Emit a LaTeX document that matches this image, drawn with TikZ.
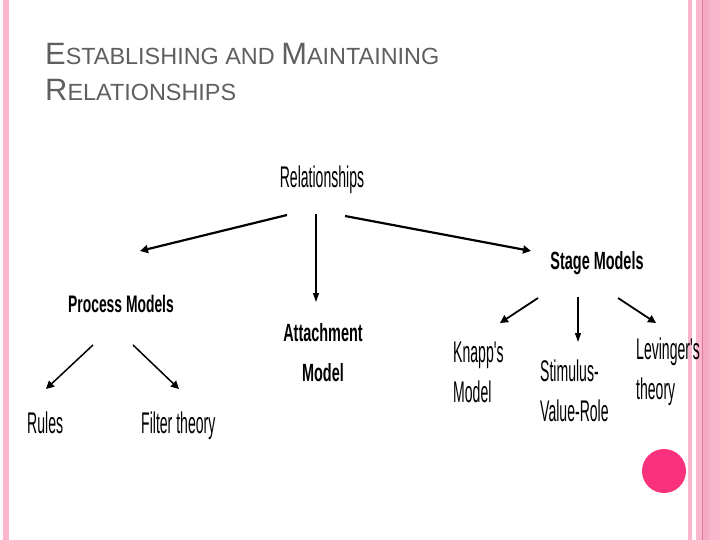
\documentclass[tikz,border=0pt]{standalone}
\usepackage{fontspec}
\setmainfont{Liberation Sans}
\newfontfamily\slimfont[FakeStretch=0.47]{Liberation Sans}
\newfontfamily\slimbold[FakeStretch=0.58]{Liberation Sans}
\usetikzlibrary{arrows.meta}
\definecolor{stripepink}{RGB}{250,182,204}
\definecolor{deeppink}{RGB}{222,120,165}
\definecolor{dotpink}{RGB}{250,50,125}
\definecolor{titlegray}{RGB}{95,95,95}
\newcommand{\bigc}[1]{{\fontsize{31}{36}\selectfont #1}}
\tikzset{
	item/.style = {font = \slimfont\fontsize{30}{40}\selectfont, inner sep = 0pt, align = left},
	head/.style = {font = \slimbold\bfseries\fontsize{25}{40}\selectfont, inner sep = 0pt, align = center},
	link/.style = {line width = 2.2pt, -{Triangle[length = 8pt, width = 8pt]}},
	thinlink/.style = {line width = 1.1pt, -{Triangle[length = 9pt, width = 6pt]}}
}
\begin{document}
\begin{tikzpicture} [x = 1bp, y = -1bp]
	\useasboundingbox (0,0) rectangle (720,540);
	\fill[stripepink] (3,0) rectangle (9,540);
	\fill[stripepink] (688,0) rectangle (692,540);
	\fill[stripepink] (696,0) rectangle (720,540);
	\fill[stripepink!80!deeppink] (703,0) rectangle (709,540);
	\draw[deeppink, line width = 1pt] (702.5,0) -- (702.5,540);
	\fill[dotpink] (664,471) circle (22);
	\node (title1) [anchor = base west, inner sep = 0pt, text = titlegray, font = \fontsize{23.5}{28}\selectfont] at (45,65) {\bigc{E}STABLISHING AND \bigc{M}AINTAINING};
	\node (title2) [anchor = base west, inner sep = 0pt, text = titlegray, font = \fontsize{23.5}{28}\selectfont] at (45,101) {\bigc{R}ELATIONSHIPS};
	\node (rel) [item, anchor = base] at (322,188) {Relationships};
	\node (proc) [head, anchor = base, font = \slimbold\bfseries\fontsize{24}{40}\selectfont] at (121,312) {Process Models};
	\node (att) [head] at (323,353) {Attachment\\Model};
	\node (stage) [head, anchor = base] at (597,270) {Stage Models};
	\node (rules) [item, anchor = base west] at (27,433) {Rules};
	\node (filter) [item, anchor = base west] at (141,433) {Filter theory};
	\node (knapp) [item, anchor = north west] at (453,342) {Knapp's\\Model};
	\node (svr) [item, anchor = north west] at (540,360) {Stimulus-\\Value-Role};
	\node (lev) [item, anchor = north west] at (636,338) {Levinger's\\theory};
	\coordinate (relW) at (287,215);
	\coordinate (relS) at (316,214);
	\coordinate (relE) at (345,216);
	\coordinate (procN) at (140,251);
	\coordinate (attN) at (316,302);
	\coordinate (stageN) at (531,251);
	\coordinate (procW) at (93,345);
	\coordinate (procE) at (133,345);
	\coordinate (rulesN) at (46,389);
	\coordinate (filterN) at (179,389);
	\coordinate (stageW) at (538,298);
	\coordinate (stageS) at (578,297);
	\coordinate (stageE) at (618,298);
	\coordinate (knappN) at (500,323);
	\coordinate (svrN) at (578,342);
	\coordinate (levN) at (656,323);
	\draw[link] (relW) -- (procN);
	\draw[thinlink] (relS) -- (attN);
	\draw[link] (relE) -- (stageN);
	\draw[link, line width = 1.5pt] (procW) -- (rulesN);
	\draw[link, line width = 1.5pt] (procE) -- (filterN);
	\draw[link, line width = 1.8pt] (stageW) -- (knappN);
	\draw[thinlink] (stageS) -- (svrN);
	\draw[link, line width = 1.8pt] (stageE) -- (levN);
\end{tikzpicture}
\end{document}
